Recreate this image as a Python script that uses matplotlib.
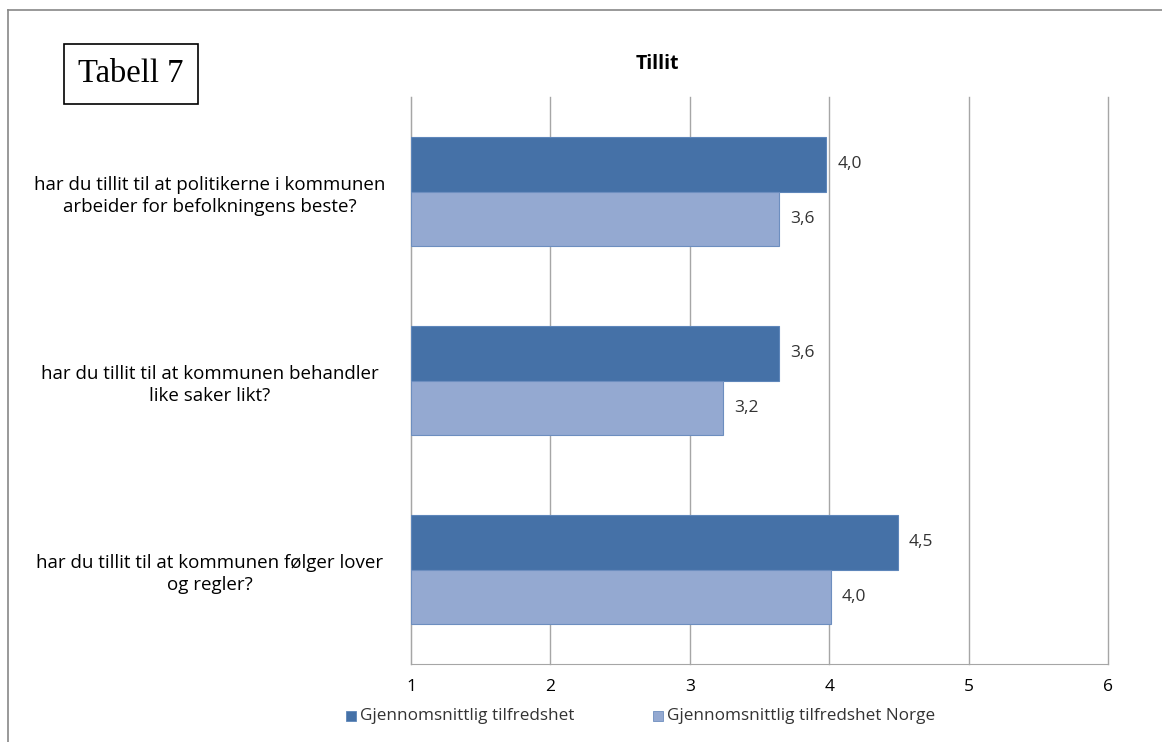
import numpy as np
import matplotlib.pyplot as plt
from matplotlib.patches import Rectangle

# data
questions = [
    "har du tillit til at politikerne i kommunen\narbeider for befolkningens beste?",
    "har du tillit til at kommunen behandler\nlike saker likt?",
    "har du tillit til at kommunen følger lover\nog regler?",
]
lokal = [3.98, 3.64, 4.49]
norge = [3.64, 3.24, 4.01]
series_names = ["Gjennomsnittlig tilfredshet", "Gjennomsnittlig tilfredshet Norge"]
xticks = [1, 2, 3, 4, 5, 6]

dark = "#4571A7"
light = "#94A9D1"

fig = plt.figure(figsize=(11.62, 7.42), dpi=100)
ax = fig.add_axes([411 / 1162, 1 - 664 / 742, (1108 - 411) / 1162, (664 - 97) / 742])

y = np.arange(len(questions))
h = 0.286
ax.barh(y - h / 2, np.array(lokal) - 1, left=1, height=h, color=dark,
        edgecolor="#5E86BA", linewidth=0.8, zorder=3)
ax.barh(y + h / 2, np.array(norge) - 1, left=1, height=h, color=light,
        edgecolor="#6D8EBF", linewidth=0.8, zorder=3)

for i in range(len(questions)):
    ax.text(lokal[i] + 0.08, y[i] - h / 2, f"{lokal[i]:.1f}".replace(".", ","),
            va="center", ha="left", fontsize=12.5, color="#333333", family="Open Sans")
    ax.text(norge[i] + 0.08, y[i] + h / 2, f"{norge[i]:.1f}".replace(".", ","),
            va="center", ha="left", fontsize=12.5, color="#333333", family="Open Sans")

ax.set_xlim(1, 6)
ax.set_ylim(2.5, -0.5)
ax.set_xticks(xticks)
ax.set_xticklabels([str(t) for t in xticks], family="Open Sans", fontsize=12.5)
ax.set_yticks(y)
ax.set_yticklabels(questions, family="Open Sans", fontsize=13.5, ha="center",
                   multialignment="center", linespacing=1.3)
ax.tick_params(axis="y", length=0, pad=145)
ax.tick_params(axis="x", length=0, pad=11)
ax.grid(axis="x", color="#A6A6A6", linewidth=1, zorder=0)
for gl in ax.get_xgridlines():
    gl.set_clip_on(False)
for s in ["top", "right"]:
    ax.spines[s].set_visible(False)
ax.spines["left"].set_color("#A6A6A6")
ax.spines["bottom"].set_color("#A6A6A6")

fig.text(657 / 1162, 1 - 64 / 742, "Tillit", ha="center", va="center",
         fontsize=14, fontweight="bold", family="Open Sans")

# Tabell box
fig.text(131 / 1162, 1 - 74 / 742, "Tabell 7", ha="center", va="center",
         fontsize=23.5, family="Liberation Serif",
         bbox=dict(boxstyle="square,pad=0.45", fc="white", ec="black", lw=1.2))

# legend
fig.patches.append(Rectangle((346 / 1162, 1 - 721 / 742), 10 / 1162, 10 / 742,
                             transform=fig.transFigure, fc=dark, ec="#5E86BA", lw=0.6))
fig.text(360 / 1162, 1 - 716 / 742, series_names[0], va="center", fontsize=12.3,
         family="Open Sans", color="#333333")
fig.patches.append(Rectangle((653 / 1162, 1 - 721 / 742), 10 / 1162, 10 / 742,
                             transform=fig.transFigure, fc=light, ec="#6D8EBF", lw=0.6))
fig.text(667 / 1162, 1 - 716 / 742, series_names[1], va="center", fontsize=12.3,
         family="Open Sans", color="#333333")

# outer frame
fig.add_artist(plt.Line2D([8 / 1162, 8 / 1162], [0, 1 - 10 / 742],
                          transform=fig.transFigure, color="#888888", lw=1.2))
fig.add_artist(plt.Line2D([8 / 1162, 1], [1 - 10 / 742, 1 - 10 / 742],
                          transform=fig.transFigure, color="#888888", lw=1.2))

fig.savefig("out.png", dpi=100)
